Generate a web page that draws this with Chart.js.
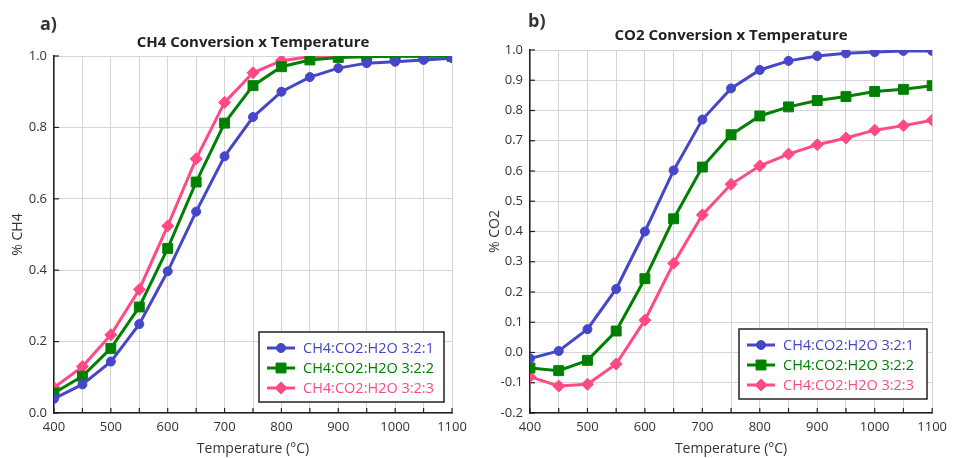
<!DOCTYPE html>
<html>
<head>
<meta charset="utf-8">
<script src="https://cdn.jsdelivr.net/npm/chart.js@4/dist/chart.umd.min.js"></script>
<style>
    body { margin: 0; background: #fff; }
    #wrap { position: relative; width: 953px; height: 458px; }
    .panel { position: absolute; top: 0; height: 458px; }
    .tag { position: absolute; font: bold 18px "Open Sans", sans-serif; color: #333; }
</style>
</head>
<body>
<div id="wrap">
    <div class="panel" style="left:0;width:476px"><canvas id="ch4chart"></canvas></div>
    <div class="panel" style="left:477px;width:476px"><canvas id="co2chart"></canvas></div>
    <div class="tag" style="left:40px;top:11px">a)</div>
    <div class="tag" style="left:528px;top:8px">b)</div>
</div>
<script>
//Temperatures (°C) and series names
const temps = [400, 450, 500, 550, 600, 650, 700, 750, 800, 850, 900, 950, 1000, 1050, 1100];
const seriesNames = ['CH4:CO2:H2O 3:2:1', 'CH4:CO2:H2O 3:2:2', 'CH4:CO2:H2O 3:2:3'];

//CH4 conversion read off panel a)
const ch4Ratio1 = [0.040, 0.080, 0.144, 0.249, 0.397, 0.564, 0.719, 0.829, 0.900, 0.941, 0.966, 0.980, 0.984, 0.989, 0.994];
const ch4Ratio2 = [0.056, 0.103, 0.181, 0.297, 0.461, 0.647, 0.812, 0.917, 0.970, 0.989, 0.996, 0.998, 0.999, 0.999, 0.999];
const ch4Ratio3 = [0.071, 0.130, 0.219, 0.346, 0.524, 0.712, 0.870, 0.953, 0.987, 0.998, 1.000, 1.000, 1.000, 1.000, 1.000];

//CO2 conversion read off panel b)
const co2Ratio1 = [-0.020, 0.005, 0.077, 0.210, 0.400, 0.602, 0.770, 0.873, 0.934, 0.964, 0.980, 0.989, 0.993, 0.997, 0.997];
const co2Ratio2 = [-0.051, -0.060, -0.026, 0.071, 0.244, 0.442, 0.613, 0.720, 0.782, 0.812, 0.833, 0.846, 0.863, 0.870, 0.882];
const co2Ratio3 = [-0.080, -0.111, -0.105, -0.038, 0.107, 0.295, 0.455, 0.556, 0.617, 0.656, 0.687, 0.709, 0.735, 0.750, 0.768];

//Only these x values get a label, grid lines run every 50
const xTickLabels = [400, 500, 600, 700, 800, 900, 1000, 1100];

const colours = ['rgb(70, 70, 200)', 'rgb(0, 128, 0)', 'rgb(255, 74, 134)'];
const markers = ['circle', 'rect', 'rectRot'];
const markerSizes = [4.5, 7, 6];
const textColour = '#333';
const fontName = '"Open Sans", sans-serif';

//Legend in a framed box, drawn over the plot
const boxLegend = {
    id: 'boxLegend',
    afterDraw(chart, args, opts) {
        const ctx = chart.ctx;
        ctx.save();
        ctx.fillStyle = '#fff';
        ctx.fillRect(opts.x, opts.y, opts.w, opts.h);
        ctx.strokeStyle = '#222';
        ctx.lineWidth = 1.5;
        ctx.strokeRect(opts.x, opts.y, opts.w, opts.h);
        ctx.font = '14.5px ' + fontName;
        ctx.textBaseline = 'middle';
        chart.data.datasets.forEach((ds, i) => {
            const y = opts.y + opts.first + i * opts.gap;
            ctx.strokeStyle = ds.borderColor;
            ctx.lineWidth = 3;
            ctx.beginPath();
            ctx.moveTo(opts.x + 8, y);
            ctx.lineTo(opts.x + 36, y);
            ctx.stroke();
            ctx.fillStyle = ds.borderColor;
            ctx.lineWidth = 1;
            Chart.helpers.drawPoint(ctx, { pointStyle: ds.pointStyle, radius: ds.pointRadius, borderWidth: 1, rotation: 0 }, opts.x + 22, y);
            ctx.fillText(ds.label, opts.x + 44, y + 1);
        });
        ctx.restore();
    }
};

//Short dark tick marks pointing inwards from both axes
const innerTicks = {
    id: 'innerTicks',
    beforeDatasetsDraw(chart) {
        const ctx = chart.ctx;
        const xs = chart.scales.x;
        const ys = chart.scales.y;
        const { left, bottom } = chart.chartArea;
        ctx.save();
        ctx.strokeStyle = '#222';
        ctx.lineWidth = 1.2;
        xs.ticks.forEach(t => {
            const px = xs.getPixelForValue(t.value);
            ctx.beginPath();
            ctx.moveTo(px, bottom);
            ctx.lineTo(px, bottom - 5);
            ctx.stroke();
        });
        ys.ticks.forEach(t => {
            const py = ys.getPixelForValue(t.value);
            ctx.beginPath();
            ctx.moveTo(left, py);
            ctx.lineTo(left + 5, py);
            ctx.stroke();
        });
        ctx.restore();
    }
};

function makeDatasets(values) {
    return values.map((vals, i) => ({
        label: seriesNames[i],
        data: temps.map((t, j) => ({ x: t, y: vals[j] })),
        borderColor: colours[i],
        backgroundColor: colours[i],
        borderWidth: 3,
        pointStyle: markers[i],
        pointRadius: markerSizes[i],
        pointBorderWidth: 1,
        tension: 0,
    }));
}

function makeChart(id, values, title, yTitle, yMin, yStep, layout, titlePad, yWidth, legendBox) {
    return new Chart(document.getElementById(id), {
        type: 'line',
        data: { datasets: makeDatasets(values) },
        options: {
            responsive: true,
            maintainAspectRatio: false,
            animation: false,
            layout: { padding: layout },
            scales: {
                x: {
                    type: 'linear',
                    min: 400,
                    max: 1100,
                    ticks: {
                        stepSize: 50,
                        autoSkip: false,
                        maxRotation: 0,
                        padding: 6,
                        color: textColour,
                        font: { family: fontName, size: 13 },
                        callback: v => xTickLabels.includes(v) ? v : '',
                    },
                    grid: { color: '#d4d4d4', drawTicks: false },
                    border: { color: '#222', width: 1.5 },
                    title: {
                        display: true,
                        text: 'Temperature (°C)',
                        color: textColour,
                        font: { family: fontName, size: 14 },
                        padding: { top: 0, bottom: 1 },
                    },
                    afterFit: s => { s.height = 45; },
                },
                y: {
                    min: yMin,
                    max: 1,
                    ticks: {
                        stepSize: yStep,
                        padding: 7,
                        color: textColour,
                        font: { family: fontName, size: 13 },
                        callback: v => (Math.abs(v) < 1e-9 ? 0 : v).toFixed(1),
                    },
                    grid: { color: '#d4d4d4', drawTicks: false },
                    border: { color: '#222', width: 1.5 },
                    title: {
                        display: true,
                        text: yTitle,
                        color: textColour,
                        font: { family: fontName, size: 14 },
                        padding: { top: 10, bottom: 0 },
                    },
                    afterFit: s => { s.width = yWidth; },
                },
            },
            plugins: {
                legend: { display: false },
                tooltip: { enabled: false },
                title: {
                    display: true,
                    fullSize: false,
                    text: title,
                    color: '#222',
                    font: { family: fontName, size: 15, weight: 'bold' },
                    padding: titlePad,
                },
                boxLegend: legendBox,
            },
        },
        plugins: [innerTicks, boxLegend],
    });
}

const ch4Chart = makeChart('ch4chart', [ch4Ratio1, ch4Ratio2, ch4Ratio3],
    'CH4 Conversion x Temperature', '% CH4', 0, 0.2,
    { top: 28, left: 0, right: 24, bottom: 0 }, { top: 6, bottom: 4 }, 54,
    { x: 259, y: 332, w: 185, h: 70, first: 16, gap: 20 });

const co2Chart = makeChart('co2chart', [co2Ratio1, co2Ratio2, co2Ratio3],
    'CO2 Conversion x Temperature', '% CO2', -0.2, 0.1,
    { top: 21, left: 0, right: 20, bottom: 0 }, { top: 6, bottom: 5 }, 53,
    { x: 262, y: 329, w: 188, h: 70, first: 16, gap: 20 });
</script>
</body>
</html>
